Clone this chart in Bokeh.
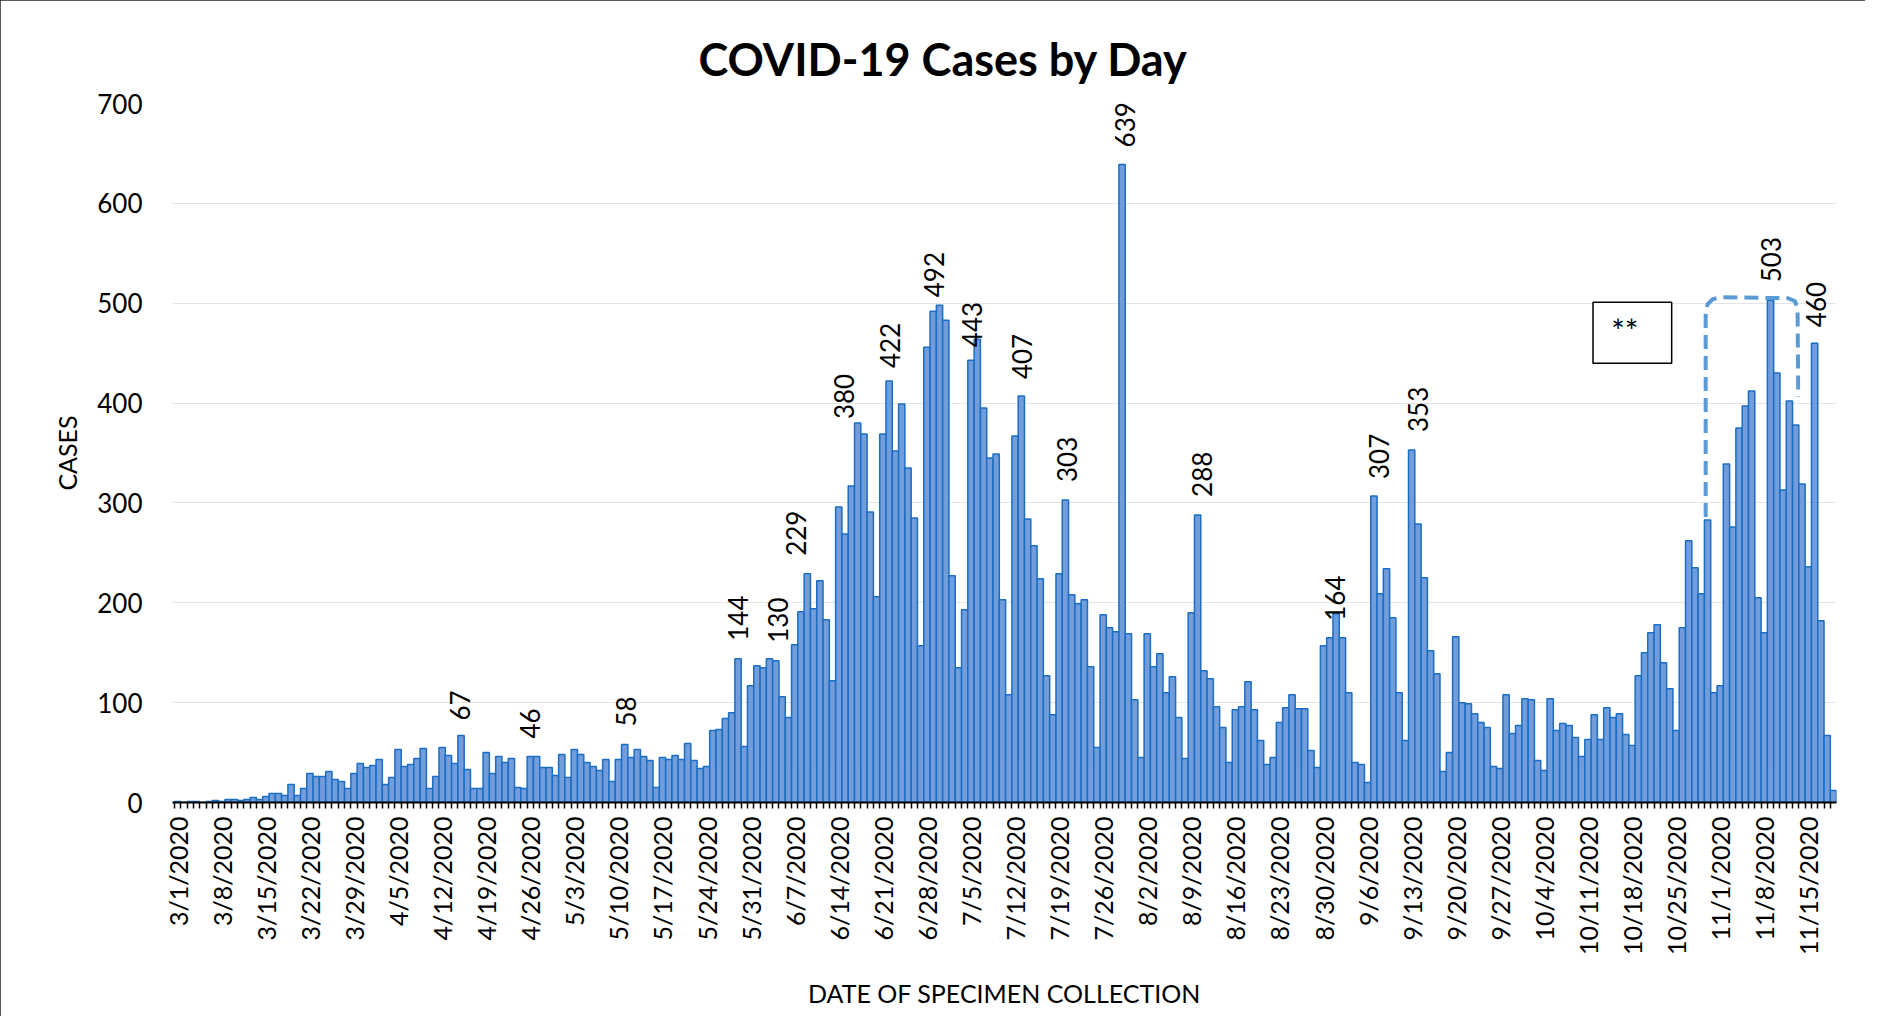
import pandas as pd
from math import pi
from bokeh.plotting import figure
from bokeh.models import FixedTicker, Range1d
from bokeh.core.properties import value
from bokeh.embed import file_html
from bokeh.resources import INLINE

# ---------------- data ----------------
start_date = "2020-03-01"
cases = [
    1, 0, 1, 1, 0, 1, 2, 1, 3, 3, 2, 3, 5, 3, 6, 9, 9, 7, 18, 7,
    14, 29, 26, 26, 31, 23, 21, 14, 29, 39, 35, 37, 43, 18, 25, 53, 36, 38, 44, 54,
    14, 26, 55, 47, 39, 67, 33, 14, 14, 50, 29, 46, 40, 44, 15, 14, 46, 46, 35, 35,
    27, 48, 25, 53, 48, 40, 36, 32, 43, 21, 43, 58, 45, 53, 46, 42, 15, 45, 43, 47,
    43, 59, 42, 34, 36, 72, 73, 84, 90, 144, 56, 117, 137, 135, 144, 142, 106, 85, 158, 191,
    229, 194, 222, 183, 122, 296, 269, 317, 380, 369, 291, 206, 369, 422, 352, 399, 335, 285, 157, 456,
    492, 498, 483, 227, 135, 193, 443, 464, 395, 345, 349, 203, 108, 367, 407, 284, 257, 224, 127, 88,
    229, 303, 208, 199, 203, 136, 55, 188, 175, 171, 639, 169, 103, 45, 169, 136, 149, 110, 126, 85,
    44, 190, 288, 132, 124, 96, 75, 40, 93, 96, 121, 93, 62, 38, 45, 80, 95, 108, 94, 94,
    52, 35, 157, 165, 189, 165, 110, 40, 38, 20, 307, 209, 234, 185, 110, 62, 353, 279, 225, 152,
    129, 31, 50, 166, 100, 99, 89, 80, 75, 36, 34, 108, 69, 77, 104, 103, 42, 32, 104, 72,
    79, 77, 65, 46, 63, 88, 63, 95, 85, 89, 68, 57, 127, 150, 170, 178, 140, 114, 72, 175,
    262, 235, 209, 283, 110, 117, 339, 276, 375, 397, 412, 205, 170, 503, 430, 313, 402, 378, 319, 236,
    460, 182, 67, 12,
]
n = len(cases)
dates = pd.date_range(start_date, periods=n, freq="D")
date_labels = [f"{d.month}/{d.day}/{d.year}" for d in dates]
day_index = list(range(n))
tick_index = list(range(0, n, 7))
tick_labels = {i: date_labels[i] for i in tick_index}

# data labels (text, x position in day index, y where the label starts)
label_text = ["67", "46", "58", "144", "130", "229", "380", "422", "492", "443",
              "407", "303", "639", "288", "164", "307", "353", "503", "460"]
label_x = [44.9, 55.9, 71.2, 89.0, 95.3, 98.2, 105.9, 113.2, 120.2, 126.2,
           134.1, 141.3, 150.4, 162.7, 183.9, 190.8, 197.0, 253.1, 260.2]
label_y = [82, 64, 76, 162, 160, 247, 384, 435, 506, 456,
           424, 321, 656, 306, 182, 324, 371, 521, 476]

# note box and dashed outline
note_text = "**"
box_left, box_right, box_top, box_bottom = 224.8, 237.3, 501, 440
dash_x = [242.7, 242.7, 243.0, 243.8, 245.0, 255.8, 256.9, 257.3, 257.4]
dash_y = [286, 488, 499, 504, 506, 505, 502, 494, 406]

# ---------------- figure ----------------
p = figure(width=1865, height=1016, output_backend="svg", toolbar_location=None,
           x_range=Range1d(-0.83, n - 0.52), y_range=Range1d(0, 700),
           min_border_left=172, min_border_right=29, min_border_top=103,
           min_border_bottom=214)
p.styles = {"outline": "2px solid #222222", "outline-offset": "-2px"}
p.outline_line_color = None
p.background_fill_color = "white"
p.border_fill_color = "white"

p.title.text = "COVID-19 Cases by Day"
p.title.align = "left"
p.title.offset = 526
p.title.text_font = "Lato"
p.title.text_font_size = "45px"
p.title.text_font_style = "bold"
p.title.text_color = "black"
p.title.standoff = 36

# y axis
p.yaxis.ticker = FixedTicker(ticks=list(range(0, 701, 100)))
p.yaxis.axis_line_color = None
p.yaxis.major_tick_line_color = None
p.yaxis.minor_tick_line_color = None
p.yaxis.major_tick_out = 0
p.yaxis.major_tick_in = 0
p.yaxis.major_label_standoff = 30
p.yaxis.major_label_text_font = "Lato"
p.yaxis.major_label_text_font_size = "26px"
p.yaxis.major_label_text_color = "black"
p.yaxis.axis_label = "CASES"
p.yaxis.axis_label_text_font = "Lato"
p.yaxis.axis_label_text_font_size = "25px"
p.yaxis.axis_label_text_font_style = "normal"
p.yaxis.axis_label_text_color = "black"
p.yaxis.axis_label_standoff = 12

# x axis
p.xaxis.ticker = FixedTicker(ticks=tick_index,
                             minor_ticks=[i - 0.5 for i in range(n + 1)])
p.xaxis.major_label_overrides = tick_labels
p.xaxis.major_label_orientation = pi / 2
p.xaxis.axis_line_color = "black"
p.xaxis.axis_line_width = 2
p.xaxis.major_tick_line_color = None
p.xaxis.major_tick_out = 6
p.xaxis.major_tick_in = 0
p.xaxis.minor_tick_line_color = "black"
p.xaxis.minor_tick_line_width = 1.5
p.xaxis.minor_tick_out = 6
p.xaxis.minor_tick_in = 0
p.xaxis.major_label_standoff = 8
p.xaxis.major_label_text_font = "Lato"
p.xaxis.major_label_text_font_size = "25px"
p.xaxis.major_label_text_color = "black"
p.xaxis.axis_label = "DATE OF SPECIMEN COLLECTION"
p.xaxis.axis_label_text_font = "Lato"
p.xaxis.axis_label_text_font_size = "25px"
p.xaxis.axis_label_text_font_style = "normal"
p.xaxis.axis_label_text_color = "black"
p.xaxis.axis_label_standoff = 20

p.xgrid.grid_line_color = None
p.ygrid.grid_line_color = "#E4E4E4"
p.ygrid.grid_line_width = 1.2

# bars
p.vbar(x=day_index, top=cases, width=1.0, bottom=0,
       fill_color="#739CDA", line_color="#1A6EC4", line_width=1.5)

# data labels
p.text(x=label_x, y=label_y, text=label_text, angle=pi / 2,
       text_align="left", text_baseline="middle",
       text_font=value("Lato"), text_font_size="26px", text_color="black")

# dashed outline
p.line(x=dash_x, y=dash_y, line_color="#5B9BD5", line_width=4, line_dash="14 7")

# note box
p.quad(left=[box_left], right=[box_right], top=[box_top], bottom=[box_bottom],
       fill_color="white", line_color="black", line_width=1.5)
p.text(x=[box_left + 2.9], y=[(box_top + box_bottom) / 2 + 2], text=[note_text],
       text_align="left", text_baseline="middle",
       text_font=value("Lato"), text_font_size="32px", text_color="black")

open("out.html", "w").write(file_html(p, INLINE))
